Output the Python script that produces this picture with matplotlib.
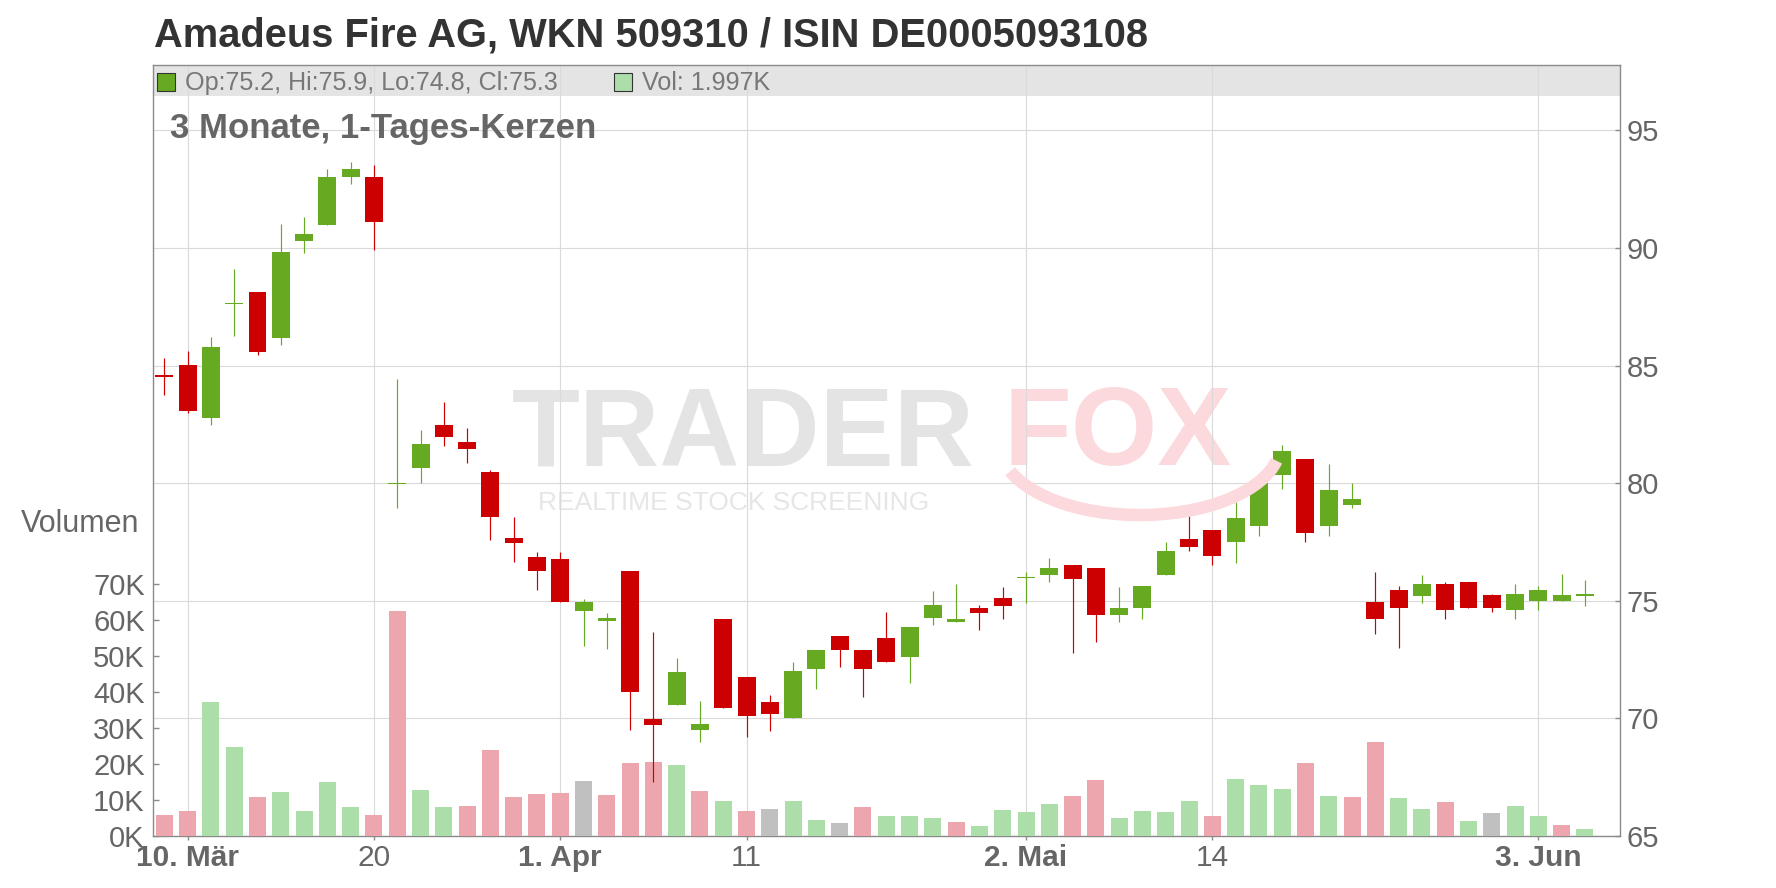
"""Amadeus Fire AG - 3 month daily candles with volume (TraderFox style)."""

import numpy as np
import pandas as pd
import matplotlib
matplotlib.use("Agg")
import matplotlib.pyplot as plt
from matplotlib.patches import Rectangle, Arc

plt.rcParams["font.family"] = ["Liberation Sans", "DejaVu Sans"]

# --- data -------------------------------------------------------------------

TITLE = "Amadeus Fire AG, WKN 509310 / ISIN DE0005093108"
SUBTITLE = "3 Monate, 1-Tages-Kerzen"

HOLIDAYS = ["2025-04-18", "2025-04-21", "2025-05-01"]

opens = [84.6, 85.03, 82.78, 87.6, 88.14, 86.19, 90.28, 91.0, 93.01, 93.04,
         79.98, 80.63, 82.49, 81.77, 80.49, 77.68, 76.87, 76.79, 74.55, 74.16,
         76.28, 69.98, 70.55, 69.52, 74.21, 71.77, 70.71, 70.0, 72.08, 73.51,
         72.92, 73.43, 72.59, 74.29, 74.08, 74.7, 75.13, 75.98, 76.08, 76.53,
         76.4, 74.38, 74.69, 76.08, 77.63, 78.01, 77.48, 78.2, 80.35, 81.01,
         78.2, 79.08, 74.93, 75.44, 75.2, 75.73, 75.82, 75.23, 74.61, 74.99,
         74.99, 75.2]
highs = [85.33, 85.63, 86.22, 89.12, 88.14, 91.04, 91.34, 93.34, 93.64, 93.55,
         84.43, 82.28, 83.47, 82.36, 80.57, 78.57, 77.09, 77.09, 75.09, 74.49,
         76.28, 73.68, 72.57, 70.74, 74.21, 71.77, 71.01, 72.41, 72.92, 73.51,
         72.92, 74.53, 73.9, 75.42, 75.72, 74.83, 75.59, 76.23, 76.83, 76.53,
         76.4, 75.59, 75.61, 77.51, 78.83, 78.01, 79.2, 80.21, 81.61, 81.01,
         80.8, 80.0, 76.24, 75.61, 76.11, 75.82, 75.82, 75.31, 75.73, 75.61,
         76.12, 75.9]
lows = [83.75, 83.0, 82.47, 86.28, 85.45, 85.88, 89.8, 91.0, 92.71, 89.9,
        78.93, 80.02, 81.57, 80.84, 77.57, 76.63, 75.44, 74.93, 73.06, 72.93,
        69.52, 67.3, 70.55, 69.01, 70.43, 69.23, 69.48, 70.0, 71.27, 72.17,
        70.89, 72.38, 71.49, 73.99, 74.08, 73.78, 74.21, 74.89, 75.78, 72.8,
        73.27, 74.08, 74.23, 76.08, 77.1, 76.51, 76.59, 77.77, 79.76, 77.48,
        77.77, 78.96, 73.59, 73.0, 74.9, 74.23, 74.69, 74.52, 74.23, 74.6,
        74.99, 74.8]
closes = [84.5, 83.08, 85.8, 87.62, 85.6, 89.84, 90.6, 93.04, 93.34, 91.09,
          80.02, 81.68, 81.95, 81.44, 78.55, 77.44, 76.25, 74.93, 74.96, 74.28,
          71.14, 69.74, 71.98, 69.77, 70.43, 70.12, 70.17, 72.03, 72.92, 72.89,
          72.08, 72.38, 73.9, 74.83, 74.24, 74.5, 74.8, 76.01, 76.4, 75.91,
          74.38, 74.7, 75.61, 77.13, 77.27, 76.89, 78.52, 80.0, 81.39, 77.9,
          79.7, 79.32, 74.23, 74.69, 75.73, 74.61, 74.69, 74.69, 75.31, 75.44,
          75.23, 75.3]

# volume in thousands; u = close up, d = close down, n = unchanged
volume_k = [5.84, 7.04, 37.26, 24.84, 10.94, 12.33, 7.04, 15.01, 8.16, 5.84,
            62.65, 12.79, 8.06, 8.34, 23.91, 10.84, 11.68, 11.96, 15.29, 11.4,
            20.3, 20.57, 19.74, 12.51, 9.73, 6.95, 7.51, 9.73, 4.45, 3.61,
            8.06, 5.56, 5.56, 5.0, 3.89, 2.78, 7.23, 6.67, 8.9, 11.12,
            15.57, 5.0, 6.95, 6.67, 9.73, 5.56, 15.85, 14.18, 13.07, 20.3,
            11.12, 10.84, 26.14, 10.57, 7.51, 9.45, 4.17, 6.39, 8.34, 5.56,
            3.06, 1.997]
vol_dir = ["d", "d", "u", "u", "d", "u", "u", "u", "u", "d",
           "d", "u", "u", "d", "d", "d", "d", "d", "n", "d",
           "d", "d", "u", "d", "u", "d", "n", "u", "u", "n",
           "d", "u", "u", "u", "d", "u", "u", "u", "u", "d",
           "d", "u", "u", "u", "u", "d", "u", "u", "u", "d",
           "u", "d", "d", "u", "u", "d", "u", "n", "u", "u",
           "d", "u"]

tick_dates = ["2025-03-10", "2025-03-20", "2025-04-01", "2025-04-11",
              "2025-05-02", "2025-05-14", "2025-06-03"]
tick_labels = ["10. Mär", "20", "1. Apr", "11", "2. Mai", "14", "3. Jun"]
tick_bold = [True, False, True, False, True, False, True]

price_ticks = [65, 70, 75, 80, 85, 90, 95]
vol_ticks_k = [0, 10, 20, 30, 40, 50, 60, 70]

# --- styling ----------------------------------------------------------------

UP = "#66aa22"
DOWN = "#cc0000"
VOL_COL = {"u": "#acdeaa", "d": "#eea6ae", "n": "#c0c0c0"}
GRID = "#dadada"
FRAME = "#8a8a8a"
LABEL = "#666666"

W, H = 1776, 888
L, R, T, B = 152.5, 1620.3, 65.3, 836.0   # plot frame in pixels


def fx(px):
    return px / W


def fy(py):
    return 1 - py / H


days = pd.bdate_range("2025-03-07", "2025-06-05")
days = days[~days.isin(pd.to_datetime(HOLIDAYS))]
x = np.arange(len(days))
o, h, lo, c = map(np.asarray, (opens, highs, lows, closes))
vol = np.asarray(volume_k)

fig = plt.figure(figsize=(W / 100, H / 100), dpi=100)
ax = fig.add_axes([fx(L), fy(B), fx(R - L), (B - T) / H])
axv = ax.twinx()
axc = ax.twinx()

xlim = (-0.51, 62.52)
ylim = (65, 97.77)
ax.set_xlim(*xlim)
ax.set_ylim(*ylim)
axc.set_ylim(*ylim)
axv.set_ylim(0, 214.3)

# header band inside the frame
band_h = (95.7 - T) / (B - T)
ax.add_patch(Rectangle((0, 1 - band_h), 1, band_h, transform=ax.transAxes,
                       facecolor="#e4e4e4", edgecolor="none", zorder=0.2))

# grid
ax.set_axisbelow(True)
ax.set_yticks(price_ticks)
tick_pos = days.get_indexer(pd.to_datetime(tick_dates))
ax.set_xticks(tick_pos)
ax.set_xticklabels(tick_labels)
for lab, bold in zip(ax.get_xticklabels(), tick_bold):
    lab.set_fontweight("bold" if bold else "normal")
ax.grid(True, color=GRID, linewidth=0.8)


# watermark
def ax_px(px, py):
    return ((px - L) / (R - L), (B - py) / (B - T))


ax.text(*ax_px(512, 465), "TRADER", transform=ax.transAxes, fontsize=80,
        fontweight="bold", color="#e4e4e4", va="baseline", ha="left", zorder=0.4)
ax.text(*ax_px(1232, 465), "FOX", transform=ax.transAxes, fontsize=80,
        fontweight="bold", color="#fcd9dd", va="baseline", ha="right", zorder=0.4)
ax.text(*ax_px(538, 510), "REALTIME STOCK SCREENING", transform=ax.transAxes,
        fontsize=19, color="#e6e6e6", va="baseline", ha="left", zorder=0.4)
fig.add_artist(Arc((fx(1140), fy(445)), fx(280), 140 / H, angle=12,
                   theta1=190, theta2=335, color="#fcd9dd", linewidth=9,
                   zorder=0.4))

# volume
axv.bar(x, vol, width=0.73, color=[VOL_COL[d] for d in vol_dir], zorder=2)
axv.set_yticks(vol_ticks_k)
axv.set_yticklabels([f"{v}K" for v in vol_ticks_k])

# candles
up = c >= o
col = np.where(up, UP, DOWN)
axc.vlines(x, lo, h, colors=col, linewidth=0.85, zorder=2)
body = np.maximum(np.abs(c - o), 0.045)
axc.bar(x, body, bottom=np.minimum(o, c), width=0.77, color=col, zorder=3)
axc.set_yticks([])

# axes / ticks
ax.yaxis.tick_right()
axv.yaxis.tick_left()
ax.tick_params(axis="y", direction="in", length=3.5, width=1, color=FRAME,
               labelsize=21, labelcolor=LABEL, pad=4.6,
               right=True, left=False, labelright=True, labelleft=False)
axv.tick_params(axis="y", direction="in", length=4, width=1, color=FRAME,
                labelsize=21, labelcolor=LABEL, pad=5.5,
                left=True, right=False, labelleft=True, labelright=False)
ax.tick_params(axis="x", direction="out", length=3, width=1, color=FRAME,
               labelsize=21.5, labelcolor=LABEL, pad=3)
for s in ax.spines.values():
    s.set_color(FRAME)
    s.set_linewidth(1.0)
for a in (axv, axc):
    for s in a.spines.values():
        s.set_visible(False)

# texts
fig.text(fx(154), fy(46.7), TITLE, fontsize=28.7, fontweight="bold",
         color="#333333", va="baseline", ha="left")
fig.text(fx(169.5), fy(138.3), SUBTITLE, fontsize=25, fontweight="bold",
         color=LABEL, va="baseline", ha="left")
fig.text(fx(139.3), fy(532.3), "Volumen", fontsize=22, color=LABEL,
         va="baseline", ha="right")

legend = (f"Op:{opens[-1]:.1f}, Hi:{highs[-1]:.1f}, "
          f"Lo:{lows[-1]:.1f}, Cl:{closes[-1]:.1f}")
fig.add_artist(Rectangle((fx(157.3), fy(90.7)), fx(17.7), 18 / H,
                         facecolor=UP, edgecolor="#333333", linewidth=0.8))
fig.text(fx(184.6), fy(90), legend, fontsize=18.1, color="#777777",
         va="baseline", ha="left")
fig.add_artist(Rectangle((fx(614.2), fy(90.7)), fx(17.7), 18 / H,
                         facecolor=VOL_COL[vol_dir[-1]], edgecolor="#333333",
                         linewidth=0.8))
fig.text(fx(641.8), fy(90), f"Vol: {volume_k[-1]:.3f}K", fontsize=18.1,
         color="#777777", va="baseline", ha="left")

fig.savefig("out.png", dpi=100)
